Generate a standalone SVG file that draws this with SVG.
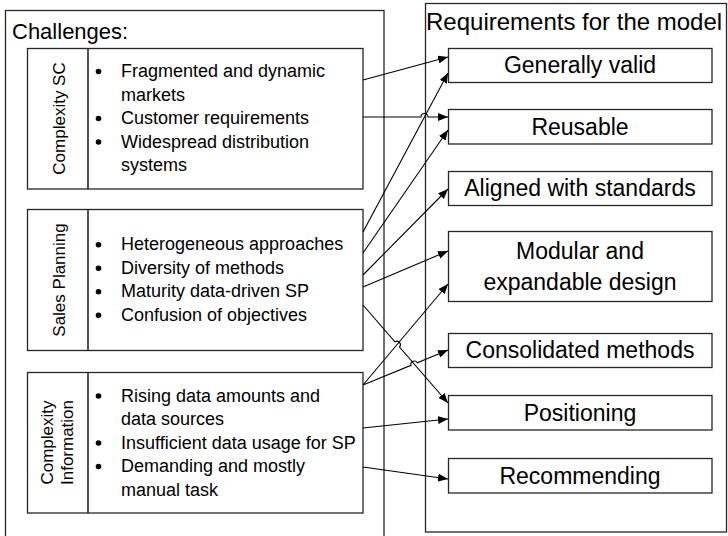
<svg xmlns="http://www.w3.org/2000/svg" width="728" height="536" viewBox="0 0 728 536">
<style>
.box{fill:#fff;stroke:#262626;stroke-width:1.3}
.div{stroke:#262626;stroke-width:1.6}
.t{font-family:"Liberation Sans",Arial,sans-serif;font-size:18px;fill:#000}
.lbl{font-family:"Liberation Sans",Arial,sans-serif;font-size:17px;fill:#000;text-anchor:middle}
.r{font-family:"Liberation Sans",Arial,sans-serif;font-size:23px;fill:#000;text-anchor:middle}
.h{font-family:"Liberation Sans",Arial,sans-serif;fill:#000}
.c{fill:none;stroke:#000;stroke-width:1.1;marker-end:url(#arr)}
.b{fill:#000}
</style>
<defs>
<marker id="arr" markerWidth="10" markerHeight="8" refX="10" refY="4" orient="auto" markerUnits="userSpaceOnUse"><path d="M0,0 L10,4 L0,8 z" fill="#000"/></marker>
</defs>
<rect x="0" y="0" width="728" height="536" fill="#fff"/>

<g id="challenges">
<rect class="box" x="5.5" y="10.5" width="378.5" height="540"/>
<text class="h" x="12" y="39" font-size="22">Challenges:</text>
</g>

<g id="complexity-sc">
<rect class="box" x="27.5" y="48.5" width="335.5" height="140.5"/>
<line class="div" x1="88" y1="48.5" x2="88" y2="189"/>
<text class="lbl" transform="translate(64.5,118.5) rotate(-90)">Complexity SC</text>
<circle class="b" cx="98.5" cy="71.5" r="2.8"/>
<circle class="b" cx="98.5" cy="118.5" r="2.8"/>
<circle class="b" cx="98.5" cy="142" r="2.8"/>
<text class="t" x="121" y="77">Fragmented and dynamic</text>
<text class="t" x="121" y="100.5">markets</text>
<text class="t" x="121" y="124">Customer requirements</text>
<text class="t" x="121" y="147.5">Widespread distribution</text>
<text class="t" x="121" y="171">systems</text>
</g>

<g id="sales-planning">
<rect class="box" x="27.5" y="209.5" width="335.5" height="141"/>
<line class="div" x1="88" y1="209.5" x2="88" y2="350.5"/>
<text class="lbl" transform="translate(64.5,280) rotate(-90)">Sales Planning</text>
<circle class="b" cx="98.5" cy="244.75" r="2.8"/>
<circle class="b" cx="98.5" cy="268.25" r="2.8"/>
<circle class="b" cx="98.5" cy="291.75" r="2.8"/>
<circle class="b" cx="98.5" cy="315.25" r="2.8"/>
<text class="t" x="121" y="250">Heterogeneous approaches</text>
<text class="t" x="121" y="273.5">Diversity of methods</text>
<text class="t" x="121" y="297">Maturity data-driven SP</text>
<text class="t" x="121" y="320.5">Confusion of objectives</text>
</g>

<g id="complexity-information">
<rect class="box" x="27.5" y="372.5" width="335.5" height="140.5"/>
<line class="div" x1="88" y1="372.5" x2="88" y2="513"/>
<text class="lbl" transform="translate(57.5,442.5) rotate(-90)"><tspan x="0" y="-4.5">Complexity</tspan><tspan x="0" y="15.5">Information</tspan></text>
<circle class="b" cx="98.5" cy="396" r="2.8"/>
<circle class="b" cx="98.5" cy="443" r="2.8"/>
<circle class="b" cx="98.5" cy="466.5" r="2.8"/>
<text class="t" x="121" y="401.5">Rising data amounts and</text>
<text class="t" x="121" y="425">data sources</text>
<text class="t" x="121" y="448.5">Insufficient data usage for SP</text>
<text class="t" x="121" y="472">Demanding and mostly</text>
<text class="t" x="121" y="495.5">manual task</text>
</g>

<g id="requirements">
<rect class="box" x="425.5" y="3.5" width="301" height="528.5"/>
<text class="h" x="426" y="30" font-size="24">Requirements for the model</text>
</g>

<g id="generally-valid">
<rect class="box" x="448.5" y="48.5" width="263.5" height="34"/>
<text class="r" x="580" y="73">Generally valid</text>
</g>
<g id="reusable">
<rect class="box" x="448.5" y="109.5" width="263.5" height="34.5"/>
<text class="r" x="580" y="134.5">Reusable</text>
</g>
<g id="aligned-with-standards">
<rect class="box" x="448.5" y="171.5" width="263.5" height="34"/>
<text class="r" x="580" y="196">Aligned with standards</text>
</g>
<g id="modular-design">
<rect class="box" x="448.5" y="231.5" width="263.5" height="70"/>
<text class="r" x="580" y="259">Modular and</text>
<text class="r" x="580" y="290">expandable design</text>
</g>
<g id="consolidated-methods">
<rect class="box" x="448.5" y="333.5" width="263.5" height="34"/>
<text class="r" x="580" y="358">Consolidated methods</text>
</g>
<g id="positioning">
<rect class="box" x="448.5" y="395.5" width="263.5" height="34.5"/>
<text class="r" x="580" y="420.5">Positioning</text>
</g>
<g id="recommending">
<rect class="box" x="448.5" y="458.5" width="263.5" height="34.5"/>
<text class="r" x="580" y="483.5">Recommending</text>
</g>

<g id="connectors">
<path class="c" d="M363,80 L448,57"/>
<path class="c" d="M363,117 H421 A3.5,3.5 0 0 1 428,117 H448"/>
<path class="c" d="M363,232 L448,73"/>
<path class="c" d="M363,253 L448,130"/>
<path class="c" d="M363,275 L448,189"/>
<path class="c" d="M363,287 L448,251"/>
<path class="c" d="M363,305 L394.9,341.8 A3.5,3.5 0 0 1 399.5,347 L448,403"/>
<path class="c" d="M363,385 L448,284"/>
<path class="c" d="M363,385 L410.9,365.3 A3.5,3.5 0 0 1 417.3,362.7 L448,350"/>
<path class="c" d="M363,428 L448,419"/>
<path class="c" d="M363,467 L448,479"/>
</g>
</svg>
